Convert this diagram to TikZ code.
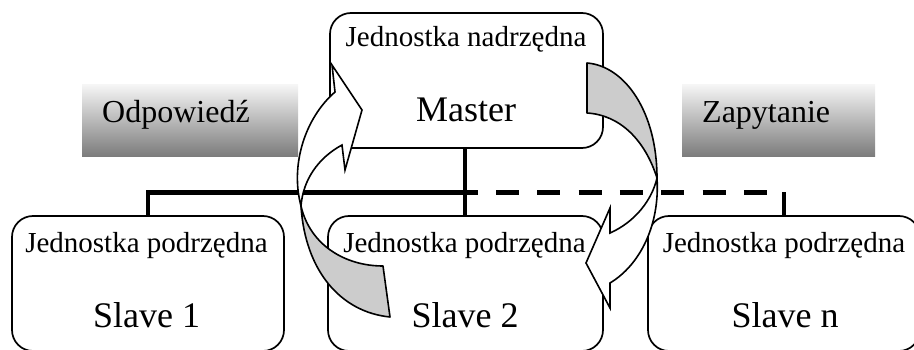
\documentclass[tikz,border=0pt]{standalone}
\usepackage{fontspec}
\setmainfont{Liberation Serif}
\begin{document}
\begin{tikzpicture}[x=1pt,y=-1pt,
  unit/.style={draw=black, line width=1.7pt, rounded corners=21pt, fill=white,
    minimum width=#1, minimum height=135pt, inner sep=0pt},
  unit/.default=273pt,
  role/.style={shape=rectangle, inner sep=0pt, minimum width=#1, minimum height=72pt,
    top color=white!96!black, bottom color=black!52},
  small/.style={anchor=base, font=\fontsize{29}{34}\selectfont, inner sep=0pt},
  big/.style={anchor=base, font=\fontsize{36}{42}\selectfont, inner sep=0pt},
  tag/.style={anchor=base west, font=\fontsize{32}{38}\selectfont, inner sep=0pt},
  bus/.style={line width=4.8pt},
  buslink/.style={bus, dash pattern=on 23pt off 18.3pt, dash phase=10.3pt},
  back/.style={fill=black!20, draw=black, line width=1.6pt, line join=round},
  front/.style={fill=white, draw=black, line width=1.6pt, line join=miter},
]
\useasboundingbox (0,0) rectangle (914,350);

% shaded captions
\node[role=216pt] (resp) at (190,121) {};
\node[role=193pt] (req) at (778.5,121) {};
\node[tag] (resptxt) at (102,123) {Odpowiedź};
\node[tag] (reqtxt) at (702,123) {Zapytanie};

% units
\node[unit] (master) at (466.5,80.5) {};
\node[unit=272pt] (s1) at (148,283.5) {};
\node[unit=275pt] (s2) at (465.5,283.5) {};
\node[unit=272pt] (sn) at (784,283.5) {};

% bus
\coordinate (j) at (465,192.5);
\draw[bus] (j |- master.south) -- (j |- s2.north);
\draw[bus] (j) -| (s1.north);
\draw[buslink] (j) -- (j -| sn.north);
\draw[bus] (j -| sn.north) -- (sn.north);

% unit texts
\node[small] (mtop) at (466,47) {Jednostka nadrzędna};
\node[big] (mname) at (466,122) {Master};
\node[small] (s1top) at (146.5,252) {Jednostka podrzędna};
\node[big] (s1name) at (146.5,327) {Slave 1};
\node[small] (s2top) at (464.5,252) {Jednostka podrzędna};
\node[big] (s2name) at (465,327) {Slave 2};
\node[small] (sntop) at (784,252) {Jednostka podrzędna};
\node[big] (snname) at (785,327) {Slave n};

% response arrow: slave 2 -> master
\draw[back] (301,206) .. controls (305,270) and (340,312) .. (390,317)
  -- (383,266) .. controls (345,266) and (310,245) .. (301,206) -- cycle;
\draw[front] (335,92) .. controls (305,118) and (290,165) .. (301,206)
  .. controls (303,180) and (318,158) .. (342,145)
  -- (345,170) -- (362,110) -- (332,65) -- cycle;

% request arrow: master -> slaves
\draw[back] (587,63) .. controls (625,66) and (657,112) .. (657,178)
  .. controls (645,140) and (620,115) .. (587,113) -- cycle;
\draw[front] (657,178) .. controls (660,225) and (640,265) .. (610,283)
  -- (610,308) -- (586,263) -- (610,208) -- (610,233)
  .. controls (635,222) and (652,200) .. (657,178) -- cycle;
\end{tikzpicture}
\end{document}
